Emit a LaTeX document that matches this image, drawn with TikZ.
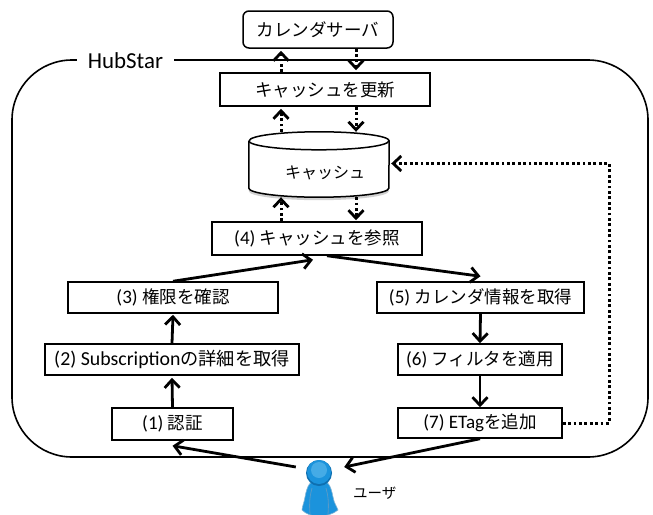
\documentclass[tikz,border=0pt]{standalone}
\usepackage{fontspec}
\setmainfont{Carlito}[Scale=1.09]
\newfontfamily\jp{Noto Sans CJK JP}
\usetikzlibrary{arrows.meta,calc}
\definecolor{ublue}{HTML}{1B93DC}
\definecolor{ubluedark}{HTML}{0E6FB0}
\definecolor{ubluelite}{HTML}{45ABE6}
\tikzset{
  procbox/.style={draw=black,line width=1.5pt,fill=white,inner sep=0pt,font=\fontsize{17.5}{20}\selectfont},
  solidarrow/.style={line width=2.8pt,-{Straight Barb[length=8pt,width=15pt,line width=2.8pt]}},
  dotarrow/.style={line width=3pt,dash pattern=on 2.8pt off 2.6pt,-{Straight Barb[length=8pt,width=15pt,line width=2.8pt]}},
}
\newcommand{\bx}[7]{\node[procbox,#7,minimum width=#4 pt-#2 pt,minimum height=#5 pt-#3 pt] (#1) at ({(#2+#4)/2},{(#3+#5)/2}) {#6};}
\begin{document}
\begin{tikzpicture}[x=1pt,y=-1pt]
\useasboundingbox (0,0) rectangle (653,514);
\fill[white] (0,0) rectangle (653,514);
% frame
\node[draw=black,line width=1.6pt,rounded corners=60pt,minimum width=636pt,minimum height=397pt,inner sep=0pt] (frame) at (330,258.5) {};
\node[fill=white,inner sep=0pt,minimum width=97pt,minimum height=18pt,font=\fontsize{21}{23}\selectfont] (hub) at (125.5,61) {HubStar};
% boxes
\bx{server}{243}{11}{393}{48}{\jp カレンダサーバ}{rounded corners=6pt}
\bx{update}{220}{73}{430}{106}{\jp キャッシュを更新}{}
\bx{refer}{212}{222}{422}{255}{(4) {\jp キャッシュを参照}}{}
\bx{perm}{68}{282}{278}{313}{(3) {\jp 権限を確認}}{}
\bx{detail}{45}{344}{299}{375}{(2) Subscription{\jp の詳細を取得}}{font=\fontsize{18.2}{20}\selectfont}
\bx{auth}{112}{408}{233}{440}{(1) {\jp 認証}}{}
\bx{cal}{377}{282}{584}{313}{(5) {\jp カレンダ情報を取得}}{}
\bx{filt}{398}{344}{562}{375}{(6) {\jp フィルタを適用}}{}
\bx{etag}{398}{408}{562}{438}{(7) ETag{\jp を追加}}{}
% cache
\node[minimum width=140pt,minimum height=65pt,inner sep=0pt] (cache) at (319,164.5) {};
\fill[black,opacity=.18] ($(cache.south west)+(0,-6)$) arc[start angle=180,end angle=360,x radius=70pt,y radius=9pt] -- ++(0,-6) -- ++(-140,0) -- cycle;
\draw[line width=1.5pt,fill=white] ($(cache.north west)+(0,9)$) -- ($(cache.south west)+(0,-9)$)
  arc[start angle=180,end angle=360,x radius=70pt,y radius=9pt] -- ($(cache.north east)+(0,9)$)
  arc[start angle=0,end angle=180,x radius=70pt,y radius=9pt];
\draw[line width=1.5pt] ($(cache.north west)+(0,9)$) arc[start angle=180,end angle=360,x radius=70pt,y radius=9pt];
\node[font=\fontsize{16}{18}\selectfont] (cachetext) at (325,173) {\jp キャッシュ};
% user
\node[inner sep=0pt,minimum width=36pt,minimum height=42pt] (user) at (319,493) {};
\begin{scope}
\clip (0,0) rectangle (653,514);
\fill[ublue,draw=ubluedark!50,line width=.6pt] (319,478) .. controls (310,480) and (307,486) .. (305,497)
  .. controls (304,503) and (302,507) .. (302,510) .. controls (306,514) and (311,516) .. (319,516)
  .. controls (327,516) and (333,514) .. (338,510) .. controls (337,507) and (334,503) .. (333,497)
  .. controls (331,486) and (328,480) .. (319,478) -- cycle;
\draw[ubluedark!70,line width=.8pt] (310,514) .. controls (309,503) and (310,495) .. (312,488);
\draw[ubluedark!70,line width=.8pt] (328,514) .. controls (329,503) and (328,495) .. (326,488);
\fill[ubluedark] (319,473) circle[radius=13pt];
\fill[ublue] (319,472) circle[radius=12pt];
\fill[ubluelite] (319,470) circle[radius=8pt];
\end{scope}
\node[font=\fontsize{14.5}{16}\selectfont,anchor=west,inner sep=0pt] (userlabel) at (353,493) {\jp ユーザ};
% helpers
\coordinate (upx) at (281,0);
\coordinate (dnx) at (356,0);
\coordinate (loopx) at (609,0);
% dotted
\draw[dotarrow] (upx |- update.north) -- ($(upx |- server.south)+(0,2)$);
\draw[dotarrow] (dnx |- server.south) -- ($(dnx |- update.north)+(0,-2)$);
\draw[dotarrow] (upx |- cache.north) -- ($(upx |- update.south)+(0,2)$);
\draw[dotarrow] (dnx |- update.south) -- (dnx |- cache.north);
\draw[dotarrow] (upx |- refer.north) -- ($(upx |- cache.south)+(0,0)$);
\draw[dotarrow] (dnx |- cache.south) -- ($(dnx |- refer.north)+(0,-1)$);
\draw[dotarrow] (etag.east) -- (loopx |- etag.east) -- ($(cache.east -| loopx)+(0,-1)$) -- ($(cache.east)+(2,-1)$);
% solid
\draw[solidarrow] (auth.north) -- ($(detail.south)+(0,2)$);
\draw[solidarrow] (detail.north) -- ($(perm.south)+(0,1)$);
\draw[solidarrow] (perm.north) -- ($(refer.south)+(-4,4)$);
\draw[solidarrow] ($(refer.south)+(10,0)$) -- ($(cal.north)+(0,-5)$);
\draw[solidarrow] (cal.south) -- (filt.north);
\draw[solidarrow] (filt.south) -- (etag.north);
\draw[solidarrow] ($(user.west)+(-5,-26)$) -- ($(auth.south)+(0,5)$);
\draw[solidarrow] (etag.south) -- ($(user.east)+(7,-26)$);
\end{tikzpicture}
\end{document}
